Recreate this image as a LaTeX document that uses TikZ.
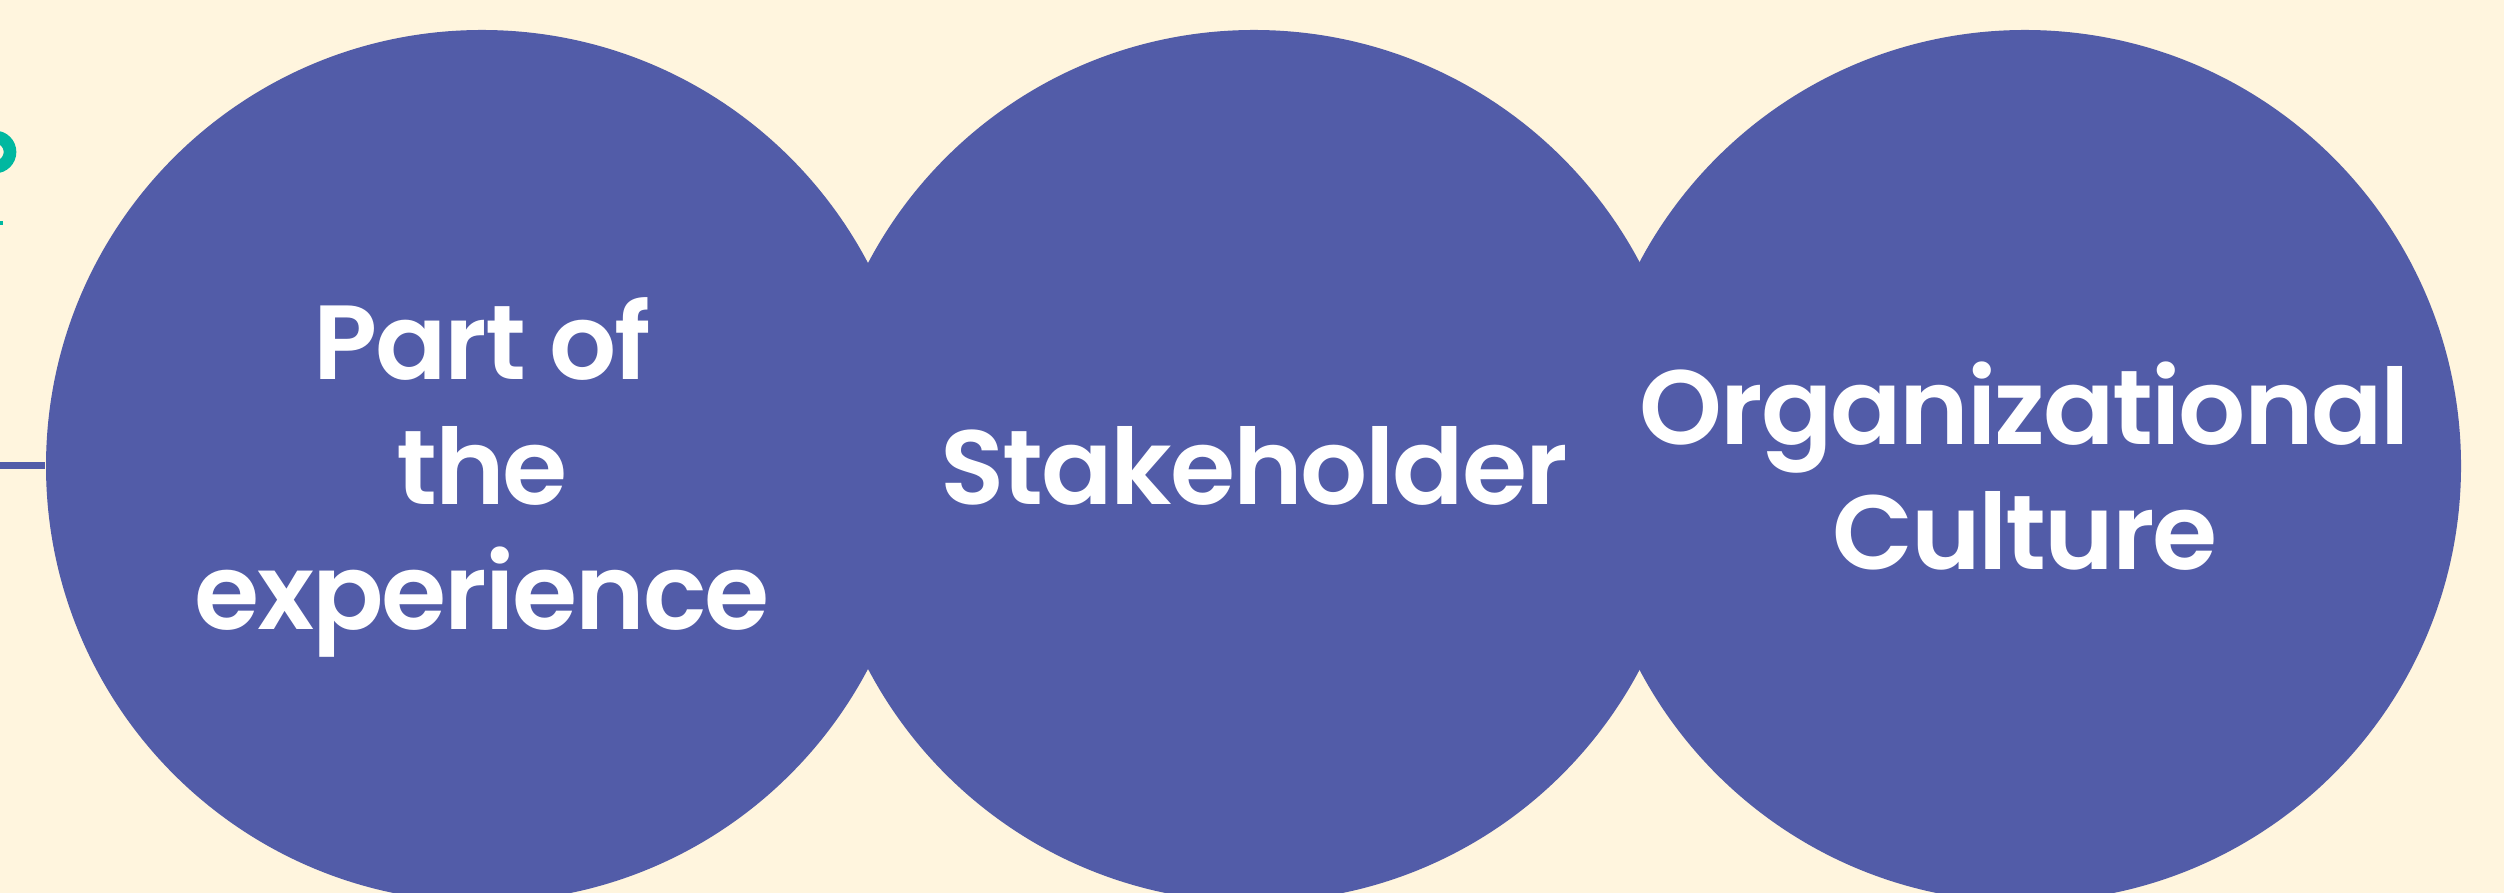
\documentclass[tikz,border=0pt]{standalone}
\usepackage{fontspec}
\setmainfont{Poppins}[BoldFont={Poppins SemiBold}, LetterSpace=-2.0]
\usepackage{xcolor}

\definecolor{cream}{RGB}{255,245,222}
\definecolor{disc}{RGB}{82,92,168}
\definecolor{teal}{RGB}{0,184,160}

\tikzset{
  bubble/.style={circle, fill=disc, minimum size=8.72cm, inner sep=0pt,
    text=white, align=center,
    font=\fontsize{30}{35.6}\selectfont\bfseries},
}

\begin{document}
\begin{tikzpicture}

\fill[cream] (0,0) rectangle (25.04,8.93);
\useasboundingbox (0,0) rectangle (25.04,8.93);

% ring cut by the left margin
\draw[teal, line width=3.6pt] (-0.05,7.41) circle (0.15);
\draw[teal, line width=1.2pt] (0,6.70) -- (0.03,6.70);

% three overlapping discs
\node[bubble] (part) at (4.82,4.27) {};
\node[bubble] (stake) at (12.54,4.27) {Stakeholder};
\node[bubble] (culture) at (20.25,4.27) {Organizational\\Culture};
\node[bubble, fill=none, minimum size=0pt] (partlbl) at (4.82,4.16) {Part of\\the\\experience};

\coordinate (edge) at (0,4.27);
\draw[disc, line width=2pt] (edge) -- (part.west);

\end{tikzpicture}
\end{document}
